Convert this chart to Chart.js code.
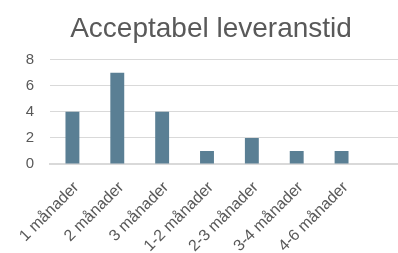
<!DOCTYPE html>
<html>
<head>
<meta charset="utf-8">
<script src="https://cdn.jsdelivr.net/npm/chart.js@4"></script>
<style>
  html, body { margin: 0; padding: 0; background: #fff; overflow: hidden; }
  #wrap { width: 414px; height: 253px; }
</style>
</head>
<body>
<div id="wrap"><canvas id="c" width="414" height="253"></canvas></div>
<script>
// Acceptabel leveranstid – antal svar per intervall
const categories = ["1 månader", "2 månader", "3 månader", "1-2 månader", "2-3 månader", "3-4 månader", "4-6 månader", ""];
const counts     = [4, 7, 4, 1, 2, 1, 1, null];
const yTicks     = [0, 2, 4, 6, 8];

const GREY = "#595959";

new Chart(document.getElementById("c").getContext("2d"), {
  type: "bar",
  data: {
    labels: categories,
    datasets: [{
      data: counts,
      backgroundColor: "#5a7f94",
      barPercentage: 0.31,
      categoryPercentage: 1,
    }],
  },
  options: {
    responsive: false,
    animation: false,
    layout: { padding: { left: 8, right: 0, top: 12, bottom: 0 } },
    plugins: {
      legend: { display: false },
      tooltip: { enabled: false },
      title: {
        display: true,
        text: "Acceptabel leveranstid",
        color: GREY,
        font: { family: "Liberation Sans", size: 28, weight: "normal" },
        padding: { top: 0, bottom: 14 },
      },
    },
    scales: {
      x: {
        grid: { display: false, drawTicks: false },
        border: { color: "#d9d9d9", width: 2 },
        ticks: {
          color: GREY,
          font: { family: "Liberation Sans", size: 16 },
          maxRotation: 45,
          minRotation: 45,
          padding: 14,
          labelOffset: 4,
          autoSkip: false,
        },
        afterFit: s => { s.height = 89; },
      },
      y: {
        min: 0,
        max: 8,
        afterBuildTicks: s => { s.ticks = yTicks.map(v => ({ value: v })); },
        grid: { color: "#d9d9d9", drawTicks: false },
        border: { display: false },
        ticks: {
          color: GREY,
          font: { family: "Liberation Sans", size: 15 },
          padding: 16,
        },
        afterFit: s => { s.width = 42; },
      },
    },
  },
});
</script>
</body>
</html>
